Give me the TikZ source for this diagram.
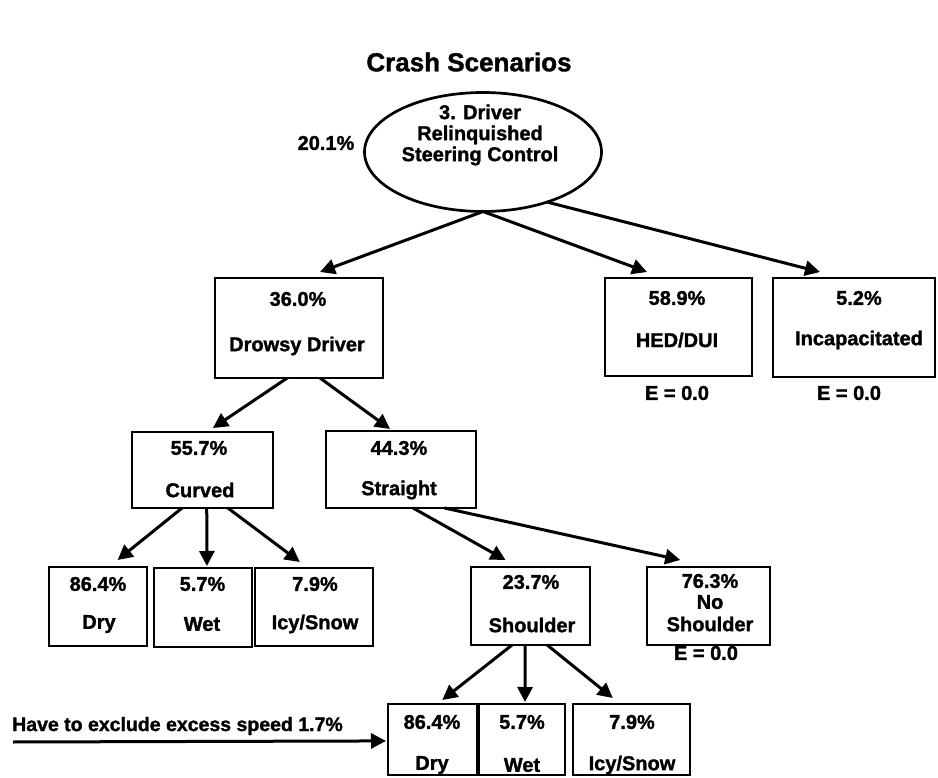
\documentclass[tikz,border=0pt]{standalone}
\usepackage{fontspec}
\setmainfont{Liberation Sans}[BoldFeatures={FakeBold=1.4}]
\usetikzlibrary{arrows.meta,calc,shapes.geometric}

\begin{document}
\begin{tikzpicture}[x=1pt,y=-1pt,
  every node/.style={inner sep=0pt, outer sep=0pt},
  lbl/.style={font=\bfseries\fontsize{20}{21}\selectfont},
  heading/.style={font=\bfseries\fontsize{26}{30}\selectfont},
  box/.style={draw, rectangle, line width=2.9pt},
  oval/.style={draw, ellipse, line width=2.7pt},
  link/.style={line width=3pt, -{Triangle[length=15pt,width=15pt]}}]
\useasboundingbox (0,0) rectangle (938,778);

% title
\node[heading] (title) at (469,62) {Crash Scenarios};

% root event
\node[oval, minimum width=237pt, minimum height=119pt] (root) at (483,152) {};
\node[lbl, align=center] (roottext) at (480,135) {3. Driver\\Relinquished\\Steering Control};
\node[lbl] (rootpct) at (326,143) {20.1\%};

% first level
\node[box, minimum width=168pt, minimum height=100pt] (drowsy) at (299,328) {};
\node[lbl] (drowsypct) at (298,299) {36.0\%};
\node[lbl] (drowsyname) at (297,346) {Drowsy Driver};

\node[box, minimum width=147pt, minimum height=98pt] (hed) at (678.5,327) {};
\node[lbl] (hedpct) at (677,298) {58.9\%};
\node[lbl] (hedname) at (677,340) {HED/DUI};
\node[lbl] (hede) at (677,393) {E = 0.0};

\node[box, minimum width=162pt, minimum height=99pt] (incap) at (854,327.5) {};
\node[lbl] (incappct) at (859,298) {5.2\%};
\node[lbl] (incapname) at (859,340) {Incapacitated};
\node[lbl] (incape) at (849,393) {E = 0.0};

% road alignment
\node[box, minimum width=141pt, minimum height=76pt] (curved) at (202.5,470) {};
\node[lbl] (curvedpct) at (199,448) {55.7\%};
\node[lbl] (curvedname) at (200,490) {Curved};

\node[box, minimum width=150pt, minimum height=77pt] (straight) at (401,469.5) {};
\node[lbl] (straightpct) at (399,448) {44.3\%};
\node[lbl] (straightname) at (399,490) {Straight};

% surface on curves
\node[box, minimum width=98pt, minimum height=79pt] (dry) at (98,606.5) {};
\node[lbl] (drypct) at (98,584) {86.4\%};
\node[lbl] (dryname) at (99,624) {Dry};

\node[box, minimum width=98pt, minimum height=79pt] (wet) at (203,607.5) {};
\node[lbl] (wetpct) at (202.5,584) {5.7\%};
\node[lbl] (wetname) at (202,624) {Wet};

\node[box, minimum width=118pt, minimum height=78pt] (icy) at (314,607) {};
\node[lbl] (icypct) at (315,584) {7.9\%};
\node[lbl] (icyname) at (315,624) {Icy/Snow};

% shoulder
\node[box, minimum width=119pt, minimum height=78pt] (shoulder) at (530.5,606) {};
\node[lbl] (shoulderpct) at (531,582) {23.7\%};
\node[lbl] (shouldername) at (532,625) {Shoulder};

\node[box, minimum width=123pt, minimum height=78pt] (noshoulder) at (708.5,606) {};
\node[lbl] (noshoulderpct) at (710,581) {76.3\%};
\node[lbl] (noshoulderno) at (710,602) {No};
\node[lbl] (noshouldername) at (710,624) {Shoulder};
\node[lbl] (noshouldere) at (706,653) {E = 0.0};

% surface with shoulder
\node[box, minimum width=89pt, minimum height=71pt] (drytwo) at (432.5,739.5) {};
\node[lbl] (drytwopct) at (432,722) {86.4\%};
\node[lbl] (drytwoname) at (432,765) {Dry};

\node[box, minimum width=86pt, minimum height=71pt] (wettwo) at (522,739.5) {};
\node[lbl] (wettwopct) at (522,722) {5.7\%};
\node[lbl] (wettwoname) at (522,765) {Wet};

\node[box, minimum width=117pt, minimum height=71pt] (icytwo) at (631.5,739.5) {};
\node[lbl] (icytwopct) at (632,722) {7.9\%};
\node[lbl] (icytwoname) at (632,765) {Icy/Snow};

% note on excess speed
\node[font=\bfseries\fontsize{19.5}{21}\selectfont] (speednote) at (177.5,726) {Have to exclude excess speed 1.7\%};
\coordinate (speedstart) at (13,742);

% connectors
\draw[link] (root.south) -- ($(drowsy.north west)!0.625!(drowsy.north east)+(0,-6)$);
\draw[link] (root.south) -- ($(hed.north west)!0.286!(hed.north east)+(0,-6)$);
\draw[link] (root.-38) -- ($(incap.north west)!0.29!(incap.north east)+(0,-6)$);

\draw[link] ($(drowsy.south west)!0.43!(drowsy.south east)$) -- ($(curved.north west)!0.574!(curved.north east)+(0,-4)$);
\draw[link] ($(drowsy.south west)!0.625!(drowsy.south east)$) -- ($(straight.north west)!0.427!(straight.north east)+(0,-2)$);

\draw[link] ($(curved.south west)!0.355!(curved.south east)$) -- ($(dry.north west)!0.70!(dry.north east)+(0,-7)$);
\draw[link] ($(curved.south west)!0.53!(curved.south east)$) -- ($(wet.north west)!0.54!(wet.north east)+(0,-2)$);
\draw[link] ($(curved.south west)!0.68!(curved.south east)$) -- ($(icy.north west)!0.38!(icy.north east)+(0,-6)$);

\draw[link] ($(straight.south west)!0.58!(straight.south east)$) -- ($(shoulder.north west)!0.29!(shoulder.north east)+(0,-7)$);
\draw[link] ($(straight.south west)!0.79!(straight.south east)$) -- ($(noshoulder.north west)!0.27!(noshoulder.north east)+(0,-7)$);

\draw[link] ($(shoulder.south west)!0.345!(shoulder.south east)$) -- ($(drytwo.north west)!0.61!(drytwo.north east)+(0,-4)$);
\draw[link] ($(shoulder.south west)!0.455!(shoulder.south east)$) -- ($(wettwo.north west)!0.535!(wettwo.north east)+(0,-2)$);
\draw[link] ($(shoulder.south west)!0.64!(shoulder.south east)$) -- ($(icytwo.north west)!0.34!(icytwo.north east)+(0,-6)$);

\draw[link] (speedstart) -- ($(drytwo.north west)!0.52!(drytwo.south west)+(-2,0)$);
\end{tikzpicture}
\end{document}
